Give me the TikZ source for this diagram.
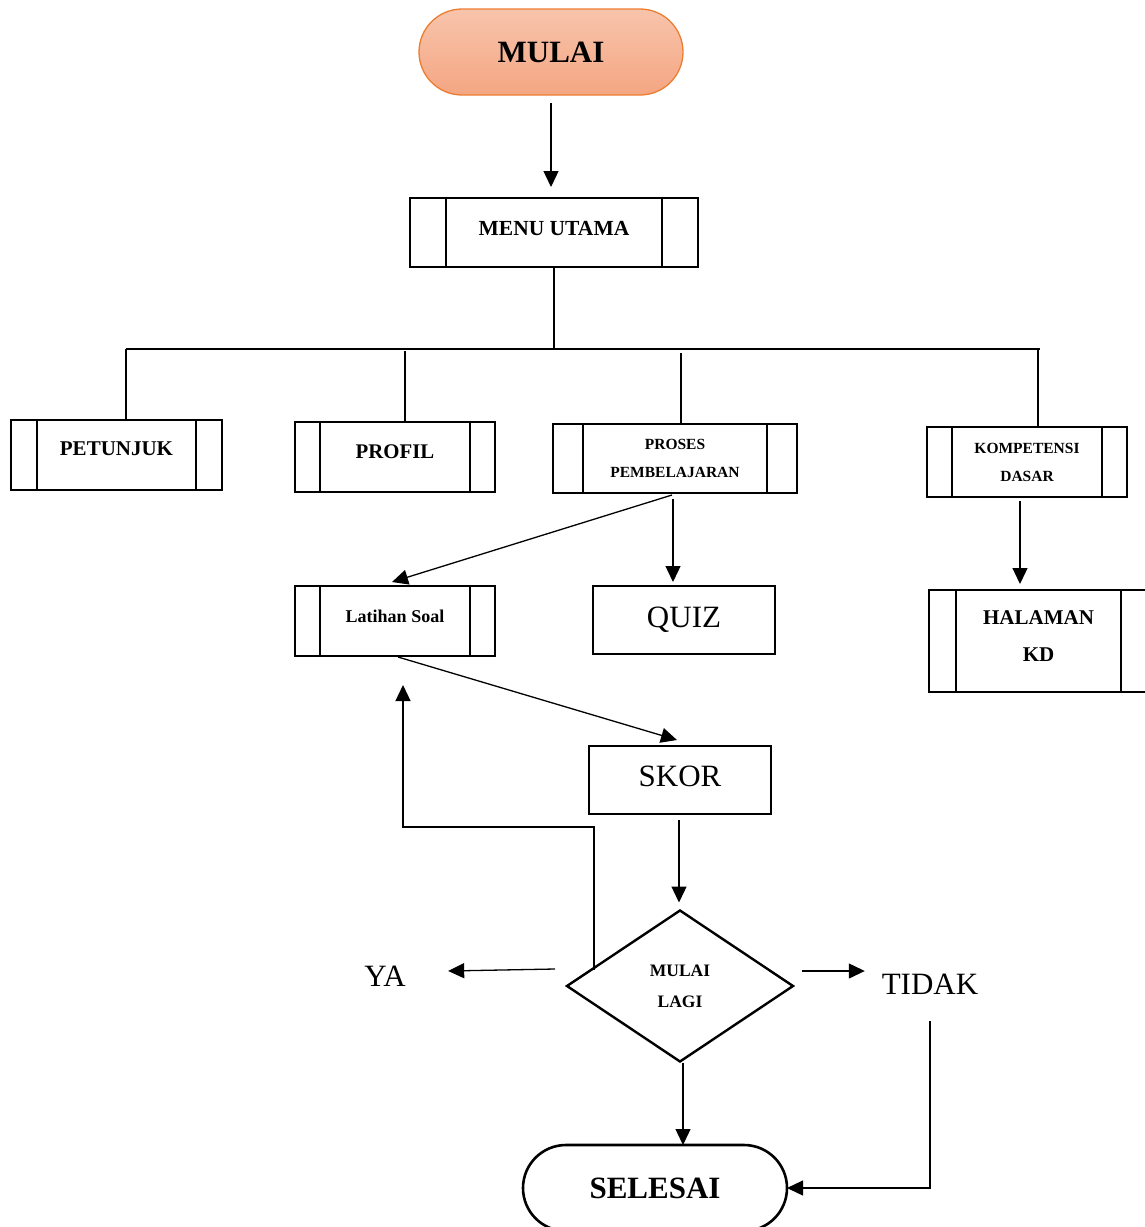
\documentclass[tikz,border=0pt]{standalone}
\usepackage{fontspec}
\setmainfont{Liberation Serif}
\usetikzlibrary{arrows.meta,shapes.geometric,calc}
\definecolor{orgborder}{HTML}{ED7D31}
\definecolor{orgtop}{HTML}{F8C4AC}
\definecolor{orgbot}{HTML}{F4A682}
\begin{document}
\begin{tikzpicture}[x=1pt,y=-1pt,
  box/.style={draw,line width=2.8pt,inner sep=0pt,outer sep=0pt,align=center,font=\bfseries\fontsize{21}{37}\selectfont},
  smallbox/.style={box,font=\bfseries\fontsize{15.5}{28}\selectfont},
  plainbox/.style={draw,line width=2.6pt,inner sep=0pt,outer sep=0pt,font=\fontsize{31}{31}\selectfont},
  term/.style={line width=2.6pt,inner sep=0pt,outer sep=0pt,rounded corners=43pt,minimum width=264pt,minimum height=86pt,font=\bfseries\fontsize{31}{31}\selectfont},
  lbl/.style={inner sep=0pt,outer sep=0pt,font=\fontsize{31}{31}\selectfont},
  bar/.style={line width=2.8pt},
  con/.style={line width=1.3pt},
  arr/.style={con,-{Triangle[length=16pt,width=15pt]}},
]
\useasboundingbox (0,0) rectangle (1145,1227);

% terminals
\node[term,draw=orgborder,line width=1.3pt,top color=orgtop,bottom color=orgbot] (mulai) at (551,52) {MULAI};
\node[term,draw] (selesai) at (655,1188) {SELESAI};

% process boxes
\node[box,font=\bfseries\fontsize{21.5}{37}\selectfont,text depth=9pt,minimum width=288pt,minimum height=69pt] (menu) at (554,232.5) {MENU UTAMA};
\node[box,text depth=12pt,minimum width=211pt,minimum height=70pt] (pet) at (116.5,455) {PETUNJUK};
\node[box,font=\bfseries\fontsize{20.8}{37}\selectfont,text depth=10pt,minimum width=200pt,minimum height=70pt] (prof) at (395,457) {PROFIL};
\node[smallbox,minimum width=244pt,minimum height=69pt] (pros) at (675,458.5) {PROSES\\PEMBELAJARAN};
\node[smallbox,minimum width=200pt,minimum height=70pt] (komp) at (1027,462) {KOMPETENSI\\DASAR};
\node[box,font=\bfseries\fontsize{18}{20}\selectfont,text depth=9pt,minimum width=200pt,minimum height=70pt] (lat) at (395,621) {Latihan Soal};
\node[box,font=\bfseries\fontsize{21}{37}\selectfont,text depth=9pt,minimum width=219pt,minimum height=102pt] (hal) at (1038.5,641) {HALAMAN\\KD};
\node[plainbox,minimum width=182pt,minimum height=68pt] (quiz) at (684,620) {QUIZ};
\node[plainbox,text depth=8pt,minimum width=182pt,minimum height=68pt] (skor) at (680,780) {SKOR};

\foreach \n/\b in {menu/36,pet/26,prof/25,pros/30,komp/25,lat/25,hal/27}{
  \draw[bar] ($(\n.north west)+(\b,0)$) -- ($(\n.south west)+(\b,0)$);
  \draw[bar] ($(\n.north east)+(-\b,0)$) -- ($(\n.south east)+(-\b,0)$);
}

% decision
\node[diamond,draw,line width=2.4pt,inner sep=0pt,outer sep=0pt,minimum width=226pt,minimum height=151pt,align=center,font=\bfseries\fontsize{17.5}{31}\selectfont] (dia) at (680,986) {MULAI\\LAGI};

% labels
\node[lbl] (ya) at (385,976) {YA};
\node[lbl] (tidak) at (930,984) {TIDAK};

% connectors
\draw[arr] ($(mulai.south)+(0,8)$) -- ($(mulai.south |- menu.north)+(0,-11)$);

\coordinate (busL) at (126,349);
\coordinate (busR) at (1040,349);
\draw[con] (menu.south) -- ($(menu.south)+(0,82)$);
\draw[con] (busL) -- (busR);
\coordinate (t1) at (126,349);
\coordinate (t2) at (405,351);
\coordinate (t3) at (681,353);
\coordinate (t4) at (1038,349);
\draw[con] (t1) -- (t1 |- pet.north);
\draw[con] (t2) -- (t2 |- prof.north);
\draw[con] (t3) -- (t3 |- pros.north);
\draw[con] (t4) -- (t4 |- komp.north);

\draw[arr] ($(pros.south)+(-3,2)$) -- ($(lat.north)+(-3,-4)$);
\draw[arr] ($(pros.south)+(-2,6)$) -- ($(pros.south |- quiz.north)+(-2,-4)$);
\draw[arr] ($(komp.south)+(-7,4)$) -- ($(komp.south |- hal.north)+(-7,-6)$);
\draw[arr] ($(lat.south)+(3,1)$) -- ($(skor.north)+(-3,-6)$);
\draw[arr] ($(skor.south)+(-1,6)$) -- ($(dia.north)+(-1,-8)$);

\coordinate (lp) at (594,970);
\draw[arr] (lp) |- ($(lat.south)+(8,171)$) -- ($(lat.south)+(8,29)$);

\draw[arr] ($(dia.west)+(-12,-17)$) -- ($(ya.east)+(42.5,-5)$);
\draw[arr] ($(dia.east)+(9,-15)$) -- ($(tidak.west)+(-17,-13)$);
\draw[arr] ($(tidak.south)+(0,27)$) |- (selesai.east);
\draw[arr] ($(dia.south)+(3,1)$) -- ($(dia.south |- selesai.north)+(3,0)$);
\end{tikzpicture}
\end{document}
